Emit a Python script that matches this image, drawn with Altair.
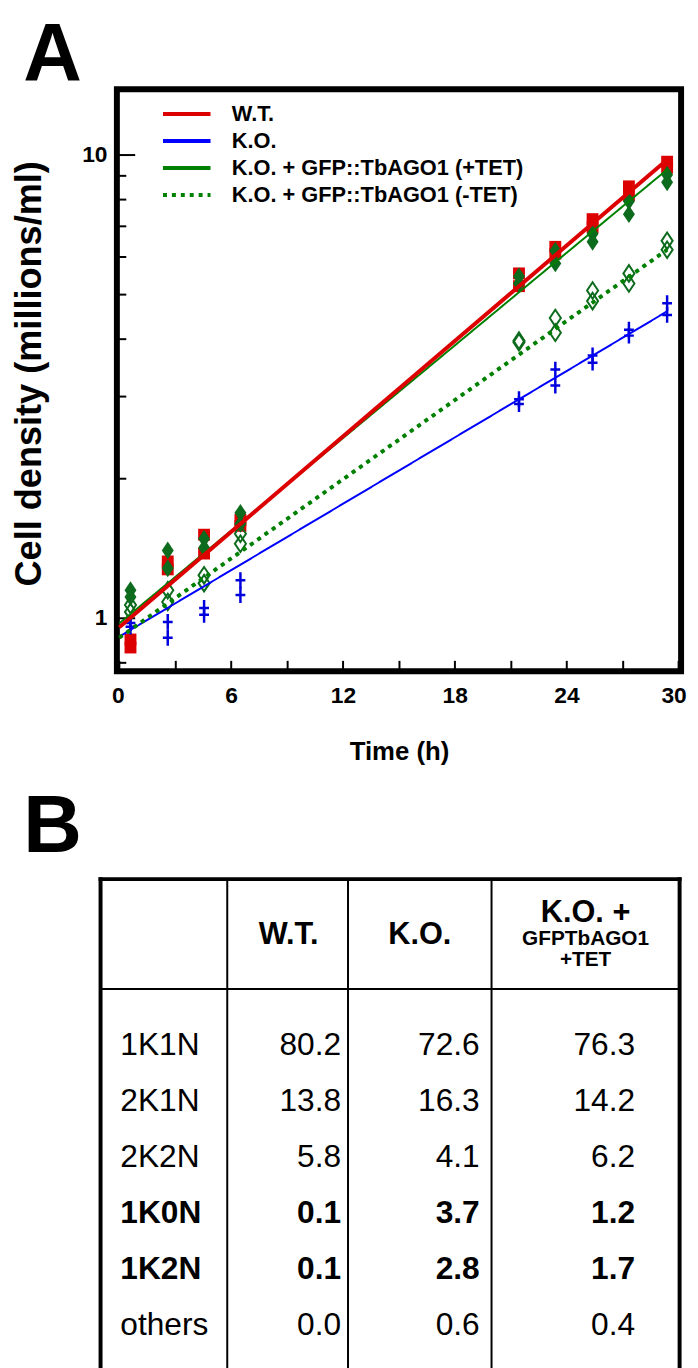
import altair as alt
import pandas as pd

FONT = "Liberation Sans"

# ---------------- Panel A: growth curves ----------------
times = [0.6, 2.6, 4.55, 6.5, 21.45, 23.4, 25.4, 27.35, 29.4]

wt_rep1 = [0.898, 1.323, 1.511, 1.626, 5.53, 6.31, 7.24, 8.52, 9.63]
wt_rep2 = [0.863, 1.272, 1.376, 1.579, 5.19, 6.10, 6.96, 8.15, 9.35]
ko_rep1 = [0.975, 0.980, 1.050, 1.205, 2.96, 3.43, 3.68, 4.18, 4.77]
ko_rep2 = [0.957, 0.906, 1.015, 1.120, 2.89, 3.17, 3.55, 4.06, 4.50]
tet_plus_rep1 = [1.147, 1.397, 1.481, 1.684, 5.45, 6.19, 6.73, 7.91, 9.03]
tet_plus_rep2 = [1.109, 1.279, 1.417, 1.595, 5.26, 5.81, 6.47, 7.42, 8.69]
tet_minus_rep1 = [1.066, 1.147, 1.235, 1.518, 3.96, 4.43, 5.08, 5.53, 6.50]
tet_minus_rep2 = [1.030, 1.082, 1.188, 1.445, 3.93, 4.12, 4.82, 5.26, 6.22]

series_names = ["W.T.", "K.O.", "K.O. + GFP::TbAGO1 (+TET)", "K.O. + GFP::TbAGO1 (-TET)"]

# exponential fit lines (values read at the start and end of each fitted line)
fit_times = [0.0, 29.4]
fit_start = [0.954, 0.911, 0.973, 0.906]
fit_end = [9.72, 4.58, 9.26, 6.22]

panel_letters = ["A", "B"]

# ---------------- Panel B: table ----------------
row_labels = ["1K1N", "2K1N", "2K2N", "1K0N", "1K2N", "others"]
bold_rows = ["1K0N", "1K2N"]
wt_pct = [80.2, 13.8, 5.8, 0.1, 0.1, 0.0]
ko_pct = [72.6, 16.3, 4.1, 3.7, 2.8, 0.6]
ko_ago_pct = [76.3, 14.2, 6.2, 1.2, 1.7, 0.4]
header_main = ["W.T.", "K.O.", "K.O. +"]
header_sub = ["GFPTbAGO1", "+TET"]

# ---------------- build tables ----------------
rep_sets = [(wt_rep1, wt_rep2), (ko_rep1, ko_rep2),
            (tet_plus_rep1, tet_plus_rep2), (tet_minus_rep1, tet_minus_rep2)]
prow = []
for name, reps in zip(series_names, rep_sets):
    for r, rep in enumerate(reps):
        for t, v in zip(times, rep):
            prow.append({"series": name, "rep": r + 1, "time": t, "density": v})
points = pd.DataFrame(prow)

lrow = []
for name, a, b in zip(series_names, fit_start, fit_end):
    lrow.append({"series": name, "time": fit_times[0], "density": a})
    lrow.append({"series": name, "time": fit_times[1], "density": b})
lines = pd.DataFrame(lrow)

PLOT_W, PLOT_H = 570, 588
x_scale = alt.Scale(domain=[-0.13, 30.15], nice=False, zero=False)
y_scale = alt.Scale(type="log", domain=[0.767, 13.8], nice=False)

x_main_axis = alt.Axis(orient="bottom", values=[0, 6, 12, 18, 24, 30], title="Time (h)",
                       labelFontSize=23, labelFontWeight="bold", labelFont=FONT, labelColor="black",
                       labelPadding=14, labelFlush=3, labelFlushOffset=8, labelOverlap=False,
                       ticks=False, tickSize=0, domain=False, grid=False,
                       titleFontSize=26, titleFontWeight="bold", titleFont=FONT, titleColor="black",
                       titlePadding=31)
x_tick_axis = alt.Axis(orient="bottom", values=list(range(0, 31, 3)), labels=False, ticks=True,
                       tickSize=11, tickWidth=2, tickColor="black", offset=-11,
                       domain=False, grid=False, title=None)
y_main_axis = alt.Axis(orient="left", values=[1, 10], format="d", title="Cell density (millions/ml)",
                       labelFontSize=23, labelFontWeight="bold", labelFont=FONT, labelColor="black",
                       labelPadding=10, labelFlush=False, labelOverlap=False,
                       ticks=False, tickSize=0, domain=False, grid=False,
                       titleFontSize=36.5, titleFontWeight="bold", titleFont=FONT, titleColor="black",
                       titlePadding=33.5, titleY=287)
y_major_axis = alt.Axis(orient="left", values=[1, 10], labels=False, ticks=True,
                        tickSize=18, tickWidth=2, tickColor="black", offset=-18,
                        domain=False, grid=False, title=None)
y_minor_axis = alt.Axis(orient="left", values=[0.8, 2, 3, 4, 5, 6, 7, 8, 9], labels=False, ticks=True,
                        tickSize=9, tickWidth=2, tickColor="black", offset=-9,
                        domain=False, grid=False, title=None)

DIAMOND = "M0,-1L0.67,0L0,1L-0.67,0Z"
CROSS = "M-0.62,0L0.62,0M0,-1L0,1"
DARK_GREEN = "#0d6b1d"

base = alt.Chart(points)

squares = base.transform_filter(alt.datum.series == series_names[0]).mark_point(
    shape="square", filled=True, size=144, color="#dd0000", opacity=1
).encode(
    x=alt.X("time:Q", scale=x_scale, axis=x_main_axis),
    y=alt.Y("density:Q", scale=y_scale, axis=y_main_axis),
)

open_diamonds = base.transform_filter(alt.datum.series == series_names[3]).mark_point(
    shape=DIAMOND, filled=False, size=280, color=DARK_GREEN, strokeWidth=2, opacity=1
).encode(
    x=alt.X("time:Q", scale=x_scale, axis=x_tick_axis),
    y=alt.Y("density:Q", scale=y_scale, axis=y_major_axis),
)

filled_diamonds = base.transform_filter(alt.datum.series == series_names[2]).mark_point(
    shape=DIAMOND, filled=True, size=324, color=DARK_GREEN, opacity=1
).encode(
    x=alt.X("time:Q", scale=x_scale, axis=None),
    y=alt.Y("density:Q", scale=y_scale, axis=y_minor_axis),
)

crosses = base.transform_filter(alt.datum.series == series_names[1]).mark_point(
    shape=CROSS, filled=False, size=256, color="#0000dd", strokeWidth=2.5, opacity=1
).encode(
    x=alt.X("time:Q", scale=x_scale, axis=None),
    y=alt.Y("density:Q", scale=y_scale, axis=None),
)

legend = alt.Legend(orient="none", legendX=59.6, legendY=14, title=None,
                    symbolType="M-4,0L4,0", symbolSize=144, symbolStrokeWidth=4,
                    labelFontSize=22, labelFontWeight="bold", labelFont=FONT, labelColor="black",
                    labelOffset=34.5, labelLimit=500, rowPadding=5.3, padding=0)

line_colors = ["#dd0000", "#0000ff", "#008000", "#008000"]

# all fitted lines (thin) carrying the legend
fit_lines = alt.Chart(lines).mark_line(strokeCap="butt").encode(
    x=alt.X("time:Q", scale=x_scale, axis=None),
    y=alt.Y("density:Q", scale=y_scale, axis=None),
    color=alt.Color("series:N", scale=alt.Scale(domain=series_names, range=line_colors), legend=legend),
    strokeDash=alt.StrokeDash("series:N", scale=alt.Scale(domain=series_names,
                    range=[[1, 0], [1, 0], [1, 0], [4, 5]]), legend=legend),
)

# thicker overlays for the W.T. line and the dotted (-TET) line
wt_thick = alt.Chart(lines).transform_filter(alt.datum.series == series_names[0]).mark_line(
    strokeCap="butt", strokeWidth=4, color=line_colors[0]
).encode(
    x=alt.X("time:Q", scale=x_scale, axis=None),
    y=alt.Y("density:Q", scale=y_scale, axis=None),
)
minus_thick = alt.Chart(lines).transform_filter(alt.datum.series == series_names[3]).mark_line(
    strokeCap="butt", strokeWidth=4, strokeDash=[4, 5], color=line_colors[3]
).encode(
    x=alt.X("time:Q", scale=x_scale, axis=None),
    y=alt.Y("density:Q", scale=y_scale, axis=None),
)

def panel_letter(letter, dx, dy):
    return alt.Chart(pd.DataFrame({"letter": [letter]})).mark_text(
        font=FONT, fontSize=82, fontWeight="bold", color="black",
        align="left", baseline="alphabetic"
    ).encode(text="letter:N", x=alt.value(dx), y=alt.value(dy))

panel_a = alt.layer(
    squares, open_diamonds, filled_diamonds, crosses, fit_lines, minus_thick, wt_thick,
    panel_letter(panel_letters[0], -94.5, -9)
).resolve_scale(
    x="shared", y="shared"
).resolve_axis(
    x="independent", y="independent"
).properties(
    width=PLOT_W, height=PLOT_H,
    view=alt.ViewBackground(stroke="black", strokeWidth=6),
)

# ---------------- Panel B layout (pixel units relative to table's top-left) ----------------
TABLE_H = 500
COL_EDGES = [0, 128, 250, 395, 585]
HEADER_LINE_Y = 111
ROW_Y0, ROW_STEP = 168, 56.6
LABEL_X = 20
VALUE_RIGHT = [243, 383, 540]
HEADER_X = [190, 322.5, 490]
HEADER_MAIN_Y = [57, 57, 34]
HEADER_SUB_Y = [61, 82]

xs = alt.Scale(domain=[16.5, 16.5 + PLOT_W], nice=False, zero=False)
ys = alt.Scale(domain=[0, TABLE_H], reverse=True, nice=False, zero=False)

outer_v = pd.DataFrame({"x": [COL_EDGES[0], COL_EDGES[-1]], "y": 0, "y2": TABLE_H})
inner_v = pd.DataFrame({"x": COL_EDGES[1:-1], "y": 0, "y2": TABLE_H})
top_h = pd.DataFrame({"x": [COL_EDGES[0]], "x2": [COL_EDGES[-1]], "y": [0]})
head_h = pd.DataFrame({"x": [COL_EDGES[0]], "x2": [COL_EDGES[-1]], "y": [HEADER_LINE_Y]})

def vrules(df, w):
    return alt.Chart(df).mark_rule(color="black", strokeWidth=w, strokeCap="square").encode(
        x=alt.X("x:Q", scale=xs, axis=None),
        y=alt.Y("y:Q", scale=ys, axis=None), y2="y2:Q")

def hrules(df, w):
    return alt.Chart(df).mark_rule(color="black", strokeWidth=w, strokeCap="square").encode(
        x=alt.X("x:Q", scale=xs, axis=None), x2="x2:Q",
        y=alt.Y("y:Q", scale=ys, axis=None))

head_main_df = pd.DataFrame({"text": header_main, "x": HEADER_X, "y": HEADER_MAIN_Y})
head_sub_df = pd.DataFrame({"text": header_sub, "x": [HEADER_X[2]] * 2, "y": HEADER_SUB_Y})

def text_layer(df, size, weight, align, field="text:N", fmt=None):
    txt = alt.Text(field, format=fmt) if fmt else alt.Text(field)
    return alt.Chart(df).mark_text(font=FONT, fontSize=size, fontWeight=weight, align=align,
                                   baseline="middle", color="black").encode(
        x=alt.X("x:Q", scale=xs, axis=None),
        y=alt.Y("y:Q", scale=ys, axis=None),
        text=txt)

label_rows = []
value_rows = []
for i, lab in enumerate(row_labels):
    y = ROW_Y0 + i * ROW_STEP
    b = lab in bold_rows
    label_rows.append({"text": lab, "x": LABEL_X, "y": y, "bold": b})
    for c, arr in enumerate([wt_pct, ko_pct, ko_ago_pct]):
        value_rows.append({"value": arr[i], "x": VALUE_RIGHT[c], "y": y, "bold": b})
labels_df = pd.DataFrame(label_rows)
values_df = pd.DataFrame(value_rows)

panel_b = alt.layer(
    vrules(outer_v, 4), vrules(inner_v, 2), hrules(top_h, 4), hrules(head_h, 2),
    text_layer(head_main_df, 31, "bold", "center"),
    text_layer(head_sub_df, 21, "bold", "center"),
    text_layer(labels_df[~labels_df.bold], 32, "normal", "left"),
    text_layer(labels_df[labels_df.bold], 32, "bold", "left"),
    text_layer(values_df[~values_df.bold], 32, "normal", "right", "value:Q", ".1f"),
    text_layer(values_df[values_df.bold], 32, "bold", "right", "value:Q", ".1f"),
    panel_letter(panel_letters[1], -94.5, -27),
).properties(width=PLOT_W, height=TABLE_H)

chart = alt.vconcat(panel_a, panel_b, spacing=210, bounds="flush").properties(
    padding={"left": 0, "top": -3, "right": 0, "bottom": 0}
).configure(font=FONT).configure_view(strokeWidth=0)

chart.save("out.html", embed_options={"renderer": "svg", "actions": False})
